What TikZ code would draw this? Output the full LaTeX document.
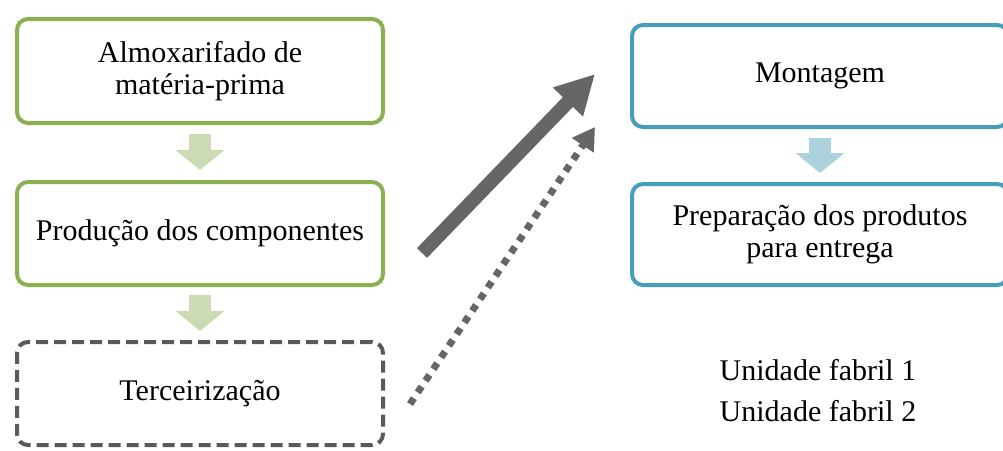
\documentclass[tikz,border=0pt]{standalone}
\usepackage{fontspec}
\setmainfont{Liberation Serif}
\usetikzlibrary{arrows.meta}
\definecolor{greenB}{RGB}{139,176,80}
\definecolor{greenL}{RGB}{203,219,180}
\definecolor{blueB}{RGB}{72,158,184}
\definecolor{blueL}{RGB}{172,210,222}
\definecolor{grayD}{RGB}{89,89,89}
\definecolor{grayA}{RGB}{102,102,102}
\tikzset{
  box/.style={draw, line width=4pt, rounded corners=11pt, minimum width=366pt,
    minimum height=104pt, inner sep=0pt, align=center, fill=white,
    font=\fontsize{30}{32}\selectfont},
  greenbox/.style={box, draw=greenB},
  bluebox/.style={box, draw=blueB, minimum width=376pt},
  dashbox/.style={box, draw=grayD, dash pattern=on 12pt off 6pt},
  blockarrow/.style={line width=22pt, -{Triangle[width=48pt,length=20pt]}},
  label/.style={font=\fontsize{30}{32}\selectfont, inner sep=0pt, anchor=base}
}
\begin{document}
\begin{tikzpicture}[x=1pt,y=-1pt]
\useasboundingbox (0,0) rectangle (1003,450);
\clip (0,0) rectangle (1003,450);
\fill[white] (0,0) rectangle (1003,450);

\node[greenbox] (b1) at (200,71) {Almoxarifado de\\mat\'eria-prima};
\node[greenbox, minimum height=103pt] (b2) at (200,233.5) {Produ\c{c}\~ao dos componentes};
\node[dashbox, minimum height=103pt] (b3) at (200,393.5) {Terceiriza\c{c}\~ao};

\node[bluebox, minimum height=102pt] (r1) at (820,76) {Montagem};
\node[bluebox, minimum height=101pt] (r2) at (820,234.5) {Prepara\c{c}\~ao dos produtos\\para entrega};

\draw[blockarrow, greenL, shorten <=9pt, shorten >=10pt] (b1.south) -- (b2.north);
\draw[blockarrow, greenL, shorten <=8pt, shorten >=9pt] (b2.south) -- (b3.north);
\draw[blockarrow, blueL, shorten <=9pt, shorten >=9pt] (r1.south) -- (r2.north);

\coordinate (d1s) at (422,253);
\coordinate (d1e) at (595,74);
\coordinate (d2s) at (410,404);
\coordinate (d2e) at (595,127);
\draw[grayA, line width=14pt, -{Triangle[width=39pt,length=39pt]}] (d1s) -- (d1e);
\draw[grayA, line width=7pt, dash pattern=on 7pt off 7pt, -{Triangle[width=25pt,length=22pt]}] (d2s) -- (d2e);

\node[label] (u1) at (818,380) {Unidade fabril 1};
\node[label] (u2) at (818,421) {Unidade fabril 2};
\end{tikzpicture}
\end{document}
